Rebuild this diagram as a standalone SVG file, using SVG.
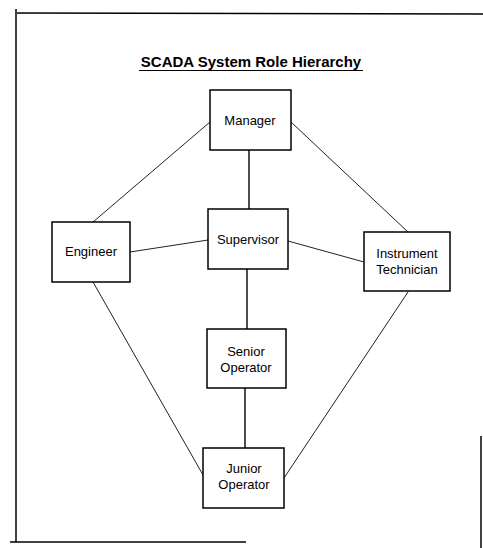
<svg xmlns="http://www.w3.org/2000/svg" width="483" height="548" viewBox="0 0 483 548">
<style>
.frame{stroke:#000;stroke-width:1.5;fill:none}
.box{fill:#fff;stroke:#000;stroke-width:1.5}
.lbl{font-family:"Liberation Sans",Arial,sans-serif;font-size:13px;fill:#000;text-anchor:middle}
.title{font-family:"Liberation Sans",Arial,sans-serif;font-size:15px;font-weight:bold;fill:#000;text-anchor:middle}
.conn line{stroke:#222;stroke-width:1}
.conn line.v{stroke:#000;stroke-width:1.4}
</style>
<rect width="483" height="548" fill="#fff"/>
<g id="frame">
<line class="frame" x1="17" y1="13" x2="483" y2="14"/>
<line class="frame" x1="16" y1="9" x2="16" y2="542"/>
<line class="frame" x1="10" y1="542" x2="246" y2="542"/>
<line class="frame" x1="481" y1="436" x2="481" y2="548"/>
</g>
<g id="title">
<text class="title" x="251" y="67">SCADA System Role Hierarchy</text>
<line x1="139" y1="70.5" x2="363" y2="70.5" stroke="#000" stroke-width="1.2"/>
</g>
<g class="conn" id="connectors">
<line class="v" x1="249" y1="150" x2="249" y2="209"/>
<line x1="210" y1="122" x2="93" y2="222"/>
<line x1="291" y1="122" x2="408" y2="232"/>
<line x1="130" y1="252" x2="208" y2="240"/>
<line x1="288" y1="241" x2="364" y2="262"/>
<line class="v" x1="247" y1="269" x2="247" y2="329"/>
<line x1="93" y1="282" x2="203" y2="475"/>
<line x1="408" y1="292" x2="284" y2="478"/>
<line class="v" x1="245" y1="388" x2="245" y2="448"/>
</g>
<g id="manager">
<rect class="box" x="210" y="90" width="81" height="60"/>
<text class="lbl" x="250" y="125">Manager</text>
</g>
<g id="supervisor">
<rect class="box" x="208" y="209" width="80" height="60"/>
<text class="lbl" x="248" y="244">Supervisor</text>
</g>
<g id="engineer">
<rect class="box" x="52" y="222" width="78" height="60"/>
<text class="lbl" x="91" y="256">Engineer</text>
</g>
<g id="instrument-technician">
<rect class="box" x="364" y="232" width="86" height="59"/>
<text class="lbl" x="407" y="258">Instrument</text>
<text class="lbl" x="407" y="274">Technician</text>
</g>
<g id="senior-operator">
<rect class="box" x="207" y="329" width="79" height="59"/>
<text class="lbl" x="246" y="356">Senior</text>
<text class="lbl" x="246" y="372">Operator</text>
</g>
<g id="junior-operator">
<rect class="box" x="203" y="448" width="81" height="60"/>
<text class="lbl" x="244" y="473">Junior</text>
<text class="lbl" x="244" y="489">Operator</text>
</g>
</svg>
